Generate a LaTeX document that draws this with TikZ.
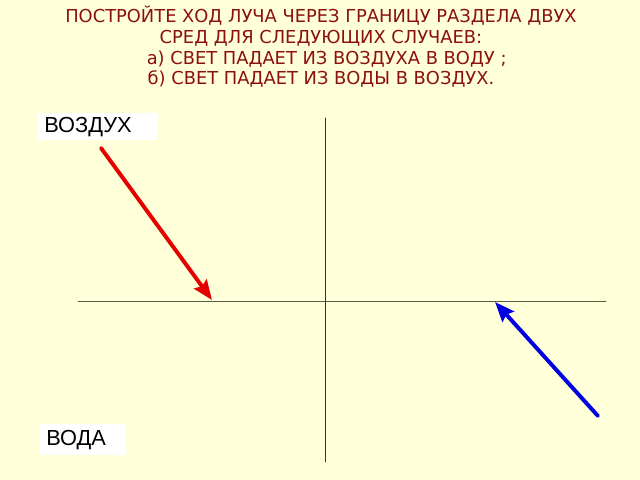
\documentclass[tikz,border=0pt]{standalone}
\usepackage{fontspec}
\usetikzlibrary{arrows.meta}
\setmainfont{DejaVu Sans}
\newfontfamily\labelfont{Liberation Sans}
\definecolor{paper}{HTML}{FFFFD9}
\definecolor{titlered}{HTML}{8B1010}
\definecolor{axisgrey}{HTML}{5A5A48}
\begin{document}
\begin{tikzpicture}[
        x = 0.025cm, y = -0.025cm, % pixel grid
        > = {Stealth[length=14pt,width=11pt,inset=2pt]}, % arrow head style
        semithick, % line style
        line cap = round
      ]

      \tikzstyle{medium}=[rectangle,fill=white,inner xsep=0.15cm,inner ysep=0pt,align=left,anchor=north west,font=\labelfont\fontsize{15.5}{15.5}\selectfont]
      \tikzstyle{ray}=[->,line width=2.8pt]

      \fill[paper] (0,0) rectangle (640,480);

      \node[titlered, align=center, font=\fontsize{12.7}{14.7}\selectfont] (title) at (321,47)
        {ПОСТРОЙТЕ ХОД ЛУЧА ЧЕРЕЗ ГРАНИЦУ РАЗДЕЛА ДВУХ\\
         СРЕД ДЛЯ СЛЕДУЮЩИХ СЛУЧАЕВ:\\
         \ \ а) СВЕТ ПАДАЕТ ИЗ ВОЗДУХА В ВОДУ ;\\
         б) СВЕТ ПАДАЕТ ИЗ ВОДЫ В ВОЗДУХ.};

      \node[medium, text width=2.675cm, minimum height=0.675cm] (air) at (38,113) {ВОЗДУХ};
      \node[medium, text width=1.825cm, minimum height=0.775cm] (water) at (40,424) {ВОДА};

      % boundary and normal
      \coordinate (left) at (78,301);
      \coordinate (right) at (606,301);
      \coordinate (top) at (325,118);
      \coordinate (bottom) at (325,462);
      \draw[axisgrey] (left) -- (right);
      \draw[black!80] (top) -- (bottom);

      % rays
      \coordinate (a1) at (101,148);
      \coordinate (a2) at (212,300);
      \coordinate (b1) at (598,416);
      \coordinate (b2) at (495,302);
      \draw[ray, red!90!black] (a1) -- (a2);
      \draw[ray, blue!88!black] (b1) -- (b2);

    \end{tikzpicture}
\end{document}
